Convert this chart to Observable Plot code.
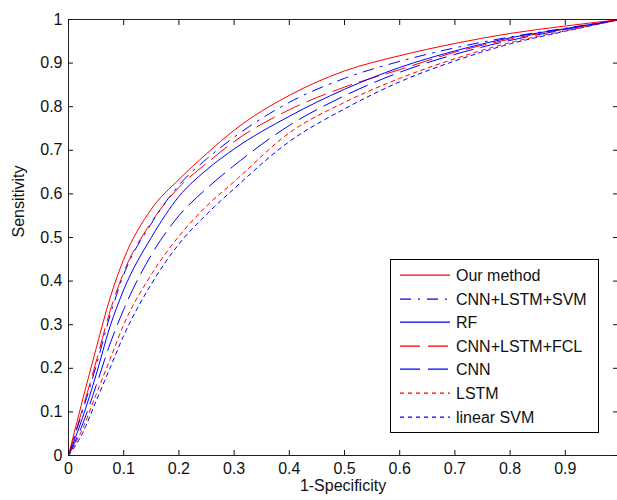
<!DOCTYPE html>
<html>
<head>
<meta charset="utf-8">
<script src="https://cdn.jsdelivr.net/npm/d3@7"></script>
<script src="https://cdn.jsdelivr.net/npm/@observablehq/plot@0.6"></script>
<style>
  html, body { margin: 0; padding: 0; background: #fff; overflow: hidden; }
  #wrap { position: relative; width: 617px; height: 500px; font-family: "Liberation Sans", Arial, sans-serif; }
  #wrap svg { overflow: hidden; }
  #legend { position: absolute; left: 390px; top: 259px; }
</style>
</head>
<body>
<div id="wrap">
  <div id="chart"></div>
  <div id="legend"></div>
</div>
<script>
// False positive rate (1-Specificity) sample points
const fpr        = [0, 0.025, 0.05, 0.075, 0.1, 0.15, 0.2, 0.25, 0.3, 0.4, 0.5, 0.6, 0.7, 0.8, 0.9, 1];
// Sensitivity for each method
const ourMethod  = [0, 0.125, 0.245, 0.36, 0.45, 0.565, 0.633, 0.692, 0.746, 0.826, 0.882, 0.917, 0.945, 0.968, 0.985, 1];
const cnnLstmSvm = [0, 0.1, 0.205, 0.32, 0.415, 0.532, 0.62, 0.68, 0.73, 0.81, 0.865, 0.904, 0.935, 0.96, 0.98, 1];
const rf         = [0, 0.085, 0.185, 0.295, 0.38, 0.5, 0.594, 0.655, 0.703, 0.778, 0.84, 0.89, 0.928, 0.958, 0.979, 1];
const cnnLstmFcl = [0, 0.105, 0.215, 0.33, 0.42, 0.535, 0.615, 0.67, 0.72, 0.793, 0.845, 0.885, 0.925, 0.955, 0.978, 1];
const cnn        = [0, 0.07, 0.16, 0.255, 0.335, 0.46, 0.55, 0.612, 0.665, 0.757, 0.825, 0.879, 0.92, 0.952, 0.977, 1];
const lstm       = [0, 0.06, 0.14, 0.22, 0.3, 0.415, 0.503, 0.572, 0.628, 0.74, 0.81, 0.865, 0.91, 0.947, 0.974, 1];
const linearSvm  = [0, 0.05, 0.125, 0.2, 0.275, 0.393, 0.485, 0.553, 0.612, 0.72, 0.795, 0.857, 0.905, 0.944, 0.973, 1];

const seriesNames = ["Our method", "CNN+LSTM+SVM", "RF", "CNN+LSTM+FCL", "CNN", "LSTM", "linear SVM"];
const seriesValues = [ourMethod, cnnLstmSvm, rf, cnnLstmFcl, cnn, lstm, linearSvm];

const xTicks = [0, 0.1, 0.2, 0.3, 0.4, 0.5, 0.6, 0.7, 0.8, 0.9, 1];
const yTicks = [0, 0.1, 0.2, 0.3, 0.4, 0.5, 0.6, 0.7, 0.8, 0.9, 1];
const xLabel = "1-Specificity";
const yLabel = "Sensitivity";

// styles (kept separate from data)
const RED = "#ff0000", BLUE = "#0000ff";
const styles = {
  "Our method":   {stroke: RED,  dash: null},
  "CNN+LSTM+SVM": {stroke: BLUE, dash: "11,7,2,7"},
  "RF":           {stroke: BLUE, dash: null},
  "CNN+LSTM+FCL": {stroke: RED,  dash: "20,8"},
  "CNN":          {stroke: BLUE, dash: "20,8"},
  "LSTM":         {stroke: RED,  dash: "4,4"},
  "linear SVM":   {stroke: BLUE, dash: "4,4"}
};

const rows = seriesNames.flatMap((name, s) =>
  fpr.map((x, i) => ({name, fpr: x, tpr: seriesValues[s][i]})));

const lineMarks = seriesNames.slice().reverse().map(name =>
  Plot.line(rows.filter(d => d.name === name), {
    x: "fpr", y: "tpr",
    stroke: styles[name].stroke,
    strokeDasharray: styles[name].dash,
    strokeWidth: 1,
    curve: "monotone-x"
  }));

const chart = Plot.plot({
  width: 617,
  height: 500,
  marginLeft: 68,
  marginRight: 0,
  marginTop: 19,
  marginBottom: 45,
  style: {fontFamily: '"Liberation Sans", Arial, sans-serif', fontSize: "16px", color: "#111", background: "#fff"},
  x: {domain: [0, 1], range: [68, 620]},
  y: {domain: [0, 1]},
  marks: [
    ...lineMarks,
    Plot.ruleY([0, 1], {stroke: "#222", strokeWidth: 1}),
    Plot.ruleX([0], {stroke: "#222", strokeWidth: 1}),
    Plot.axisX(xTicks, {anchor: "bottom", tickSize: -5, tickPadding: 12, fontSize: 16, label: null,
      tickFormat: d => (d === 1 ? "" : String(d))}),
    Plot.axisX(xTicks, {anchor: "top", tickSize: -5, label: null, tickFormat: () => ""}),
    Plot.axisY(yTicks, {anchor: "left", tickSize: -5, tickPadding: 11, fontSize: 16, label: null,
      tickFormat: d => String(d)}),
    Plot.axisY(yTicks, {anchor: "right", tickSize: -5, label: null, tickFormat: () => ""}),
    Plot.text([xLabel], {frameAnchor: "bottom", dy: 35, text: d => d, fontSize: 16, fill: "#111"}),
    Plot.text([yLabel], {frameAnchor: "left", dx: -50, rotate: -90, text: d => d, fontSize: 16, fill: "#111"})
  ]
});
document.getElementById("chart").appendChild(chart);

// legend (single SVG drawn with d3)
const lg = d3.select("#legend").append("svg")
  .attr("width", 209).attr("height", 174)
  .style("display", "block");
lg.append("rect")
  .attr("x", 0.5).attr("y", 0.5).attr("width", 208).attr("height", 173)
  .attr("fill", "#fff").attr("stroke", "#000").attr("stroke-width", 1);
const item = lg.selectAll("g.item").data(seriesNames).join("g")
  .attr("class", "item")
  .attr("transform", (d, i) => `translate(0,${Math.round(16 + i * 23.6) + 0.5})`);
item.append("line")
  .attr("x1", 10).attr("x2", 60).attr("y1", -0.3).attr("y2", -0.3)
  .attr("stroke", d => styles[d].stroke)
  .attr("stroke-width", 1.2)
  .attr("stroke-dasharray", d => styles[d].dash);
item.append("text")
  .attr("x", 66).attr("y", 0).attr("dy", "0.35em")
  .attr("font-family", '"Liberation Sans", Arial, sans-serif')
  .attr("font-size", 16).attr("fill", "#111")
  .text(d => d);
</script>
</body>
</html>
